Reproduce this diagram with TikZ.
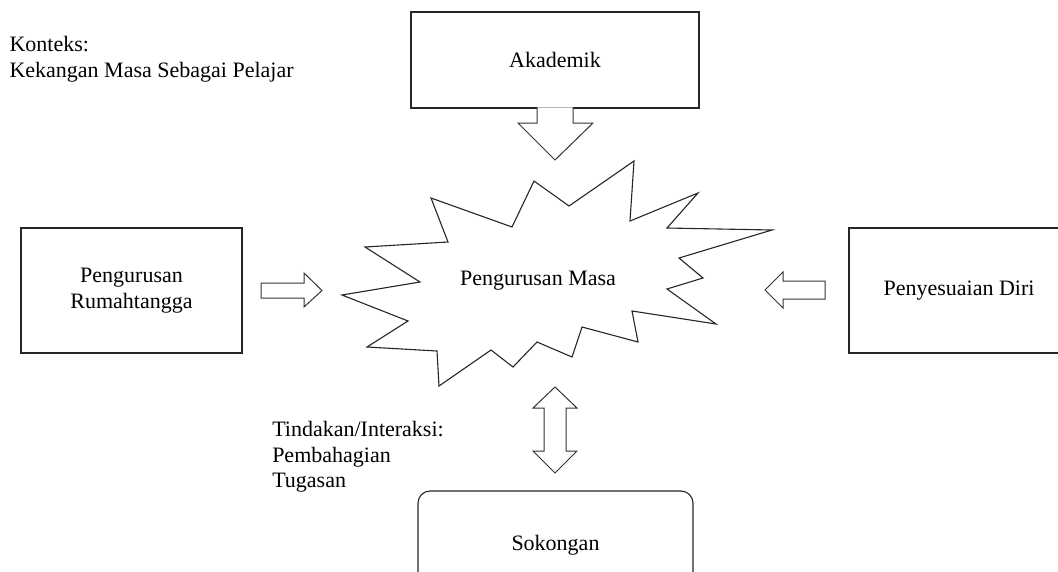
\documentclass[tikz,border=0pt]{standalone}
\usepackage{fontspec}
\setmainfont{Liberation Serif}
\begin{document}
\begin{tikzpicture}[x=1pt, y=-1pt, line join=miter, line width=1.1pt, font=\fontsize{22}{25.5}\selectfont,
    kotak/.style={draw=black!85, fill=white, rectangle, align=center, inner sep=0pt},
    panah/.style={draw=black!80, fill=white, line width=1pt}]
    \clip (0,0) rectangle (1058,571);
    \node[kotak, minimum width=288, minimum height=96] (akademik) at (555,60) {Akademik};
    \node[kotak, minimum width=221, minimum height=125] (rumah) at (131.5,290.5) {Pengurusan\\Rumahtangga};
    \node[kotak, minimum width=220, minimum height=125] (diri) at (959,290.5) {Penyesuaian Diri};
    \node[kotak, rounded corners=12pt, minimum width=275, minimum height=108] (sokongan) at (555.5,545) {Sokongan};
    \draw[draw=black!85, fill=white]
        (342,295) -- (420,282) -- (365,247) -- (448,242) -- (431,198) -- (512,227) -- (534,181)
        -- (569,206) -- (634,161) -- (630,221) -- (698,193) -- (667,228) -- (772,230) -- (679,258)
        -- (703,278) -- (667,289) -- (716,324) -- (632,311) -- (638,342) -- (582,327) -- (572,357)
        -- (537,342) -- (513,367) -- (491,350) -- (439,386) -- (437,351) -- (367,347) -- (408,321) -- cycle;
    \node (masa) at (538,281) {Pengurusan Masa};
    \draw[panah] (537,107.4) -- (537,123) -- (518,123) -- (555,160) -- (593,123) -- (573,123) -- (573,107.4);
    \draw[panah] (261,283) -- (304,283) -- (304,273) -- (322,290.5) -- (304,307) -- (304,298) -- (261,298) -- cycle;
    \draw[panah] (825,281) -- (783,281) -- (783,272) -- (765,290) -- (783,308) -- (783,299) -- (825,299) -- cycle;
    \draw[panah] (555,387) -- (577,408) -- (566,408) -- (566,451) -- (577,451) -- (555,473)
        -- (533,451) -- (544,451) -- (544,408) -- (533,408) -- cycle;
    \node[anchor=base west, align=left, inner sep=0pt] (konteks) at (9,77.2) {Konteks:\\Kekangan Masa Sebagai Pelajar};
    \node[anchor=base west, align=left, inner sep=0pt] (tindakan) at (271.7,487.7) {Tindakan/Interaksi:\\Pembahagian\\Tugasan};
\end{tikzpicture}
\end{document}
